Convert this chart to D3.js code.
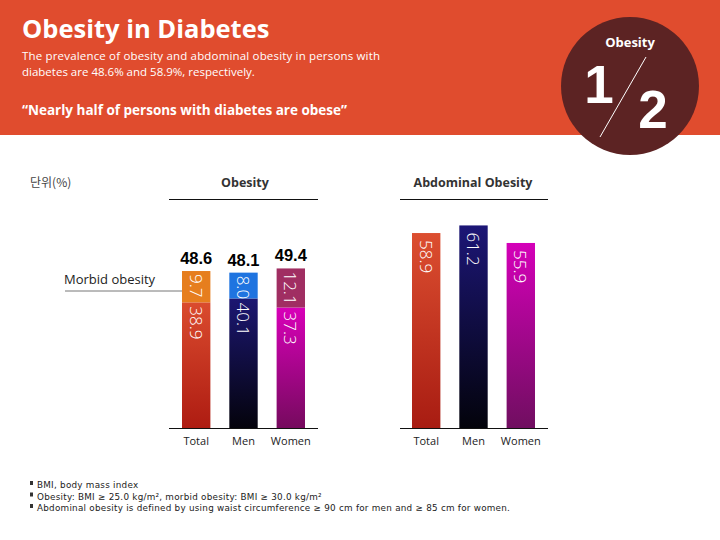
<!DOCTYPE html>
<html>
<head>
<meta charset="utf-8">
<script src="https://cdn.jsdelivr.net/npm/d3@7"></script>
<style>
  html, body { margin: 0; padding: 0; background: #fff; }
  svg { display: block; font-family: "Open Sans", "Noto Sans", sans-serif; }
</style>
</head>
<body>
<svg id="chart" width="720" height="540"></svg>
<script>
// ---- data ----
const categories = ["Total", "Men", "Women"];
const obesityTotals = [48.6, 48.1, 49.4];
const morbidObesity = [9.7, 8.0, 12.1];
const nonMorbidObesity = [38.9, 40.1, 37.3];
const abdominalObesity = [58.9, 61.2, 55.9];
const footnotes = [
  "BMI, body mass index",
  "Obesity: BMI \u2265 25.0 kg/m\u00B2, morbid obesity: BMI \u2265 30.0 kg/m\u00B2",
  "Abdominal obesity is defined by using waist circumference \u2265 90 cm for men and \u2265 85 cm for women."
];

const svg = d3.select("#chart");
const defs = svg.append("defs");

function grad(id, c1, c2) {
  const g = defs.append("linearGradient").attr("id", id)
    .attr("x1", 0).attr("y1", 0).attr("x2", 0).attr("y2", 1);
  g.append("stop").attr("offset", "0%").attr("stop-color", c1);
  g.append("stop").attr("offset", "100%").attr("stop-color", c2);
  return "url(#" + id + ")";
}
const baseFill = [
  grad("gT", "#DA4B2E", "#AE1C12"),
  grad("gM", "#1C1772", "#04030C"),
  grad("gW", "#D800B8", "#760A5E")
];
const morbidFill = ["#E67E1E", "#1F74E0", "#A02E62"];
const abdFill = [
  grad("aT", "#DC4E30", "#A81C12"),
  grad("aM", "#1C1676", "#03030B"),
  grad("aW", "#D400B8", "#700E60")
];

// ---- header ----
svg.append("rect").attr("x", 0).attr("y", 0).attr("width", 720).attr("height", 135).attr("fill", "#E04C2E");
svg.append("text").attr("x", 22).attr("y", 38).attr("fill", "#fff")
  .attr("font-size", 25.5).attr("font-weight", 700).text("Obesity in Diabetes");
svg.append("text").attr("x", 22).attr("y", 60).attr("fill", "#fff").attr("font-size", 11.5)
  .attr("textLength", 358).attr("lengthAdjust", "spacing")
  .text("The prevalence of obesity and abdominal obesity in persons with");
svg.append("text").attr("x", 22).attr("y", 76).attr("fill", "#fff").attr("font-size", 11.5)
  .text("diabetes are 48.6% and 58.9%, respectively.");
svg.append("text").attr("x", 22).attr("y", 115).attr("fill", "#fff").attr("font-size", 13.5)
  .attr("font-weight", 700).text("\u201CNearly half of persons with diabetes are obese\u201D");

// badge
svg.append("circle").attr("cx", 630).attr("cy", 86).attr("r", 69).attr("fill", "#5C2323");
svg.append("text").attr("x", 630).attr("y", 47).attr("text-anchor", "middle").attr("fill", "#fff")
  .attr("font-size", 13).attr("font-weight", 700).text("Obesity");
svg.append("text").attr("x", 599).attr("y", 103).attr("text-anchor", "middle").attr("fill", "#fff")
  .attr("font-family", "Liberation Sans, Arial, sans-serif")
  .attr("font-size", 53).attr("font-weight", 700).text("1");
svg.append("text").attr("x", 653).attr("y", 128).attr("text-anchor", "middle").attr("fill", "#fff")
  .attr("font-family", "Liberation Sans, Arial, sans-serif")
  .attr("font-size", 53).attr("font-weight", 700).text("2");
svg.append("line").attr("x1", 600).attr("y1", 137).attr("x2", 646).attr("y2", 57)
  .attr("stroke", "#fff").attr("stroke-width", 1);

// ---- unit + section titles ----
svg.append("text").attr("x", 30).attr("y", 187).attr("fill", "#444").attr("font-size", 12)
  .attr("font-family", "Noto Sans CJK KR, sans-serif").text("단위(%)");

function sectionTitle(cx, x1, x2, label) {
  svg.append("text").attr("x", cx).attr("y", 187).attr("text-anchor", "middle")
    .attr("fill", "#333").attr("font-size", 12.5).attr("font-weight", 700).text(label);
  svg.append("line").attr("x1", x1).attr("x2", x2).attr("y1", 199.5).attr("y2", 199.5)
    .attr("stroke", "#111").attr("stroke-width", 1);
}
sectionTitle(245, 169, 318, "Obesity");
sectionTitle(473, 400, 548, "Abdominal Obesity");

// ---- scales ----
const baseY = 428;
const yL = d3.scaleLinear().domain([0, 100]).range([baseY, baseY - 323]);
const yR = d3.scaleLinear().domain([0, 100]).range([baseY, baseY - 331]);
const xL = d3.scaleBand().domain(categories).range([182, 305]).paddingInner(0.4).paddingOuter(0);
const xR = d3.scaleBand().domain(categories).range([412, 535]).paddingInner(0.4).paddingOuter(0);

function rotLabel(g, x, yTop, txt) {
  g.append("text")
    .attr("transform", "translate(" + x + "," + yTop + ") rotate(90)")
    .attr("fill", "#fff").attr("font-size", 17).attr("font-weight", 300)
    .attr("dominant-baseline", "central")
    .text(txt);
}

// ---- left chart (stacked) ----
const gL = svg.append("g");
categories.forEach((c, i) => {
  const x = xL(c), w = xL.bandwidth();
  gL.append("rect").attr("x", x).attr("width", w)
    .attr("y", yL(nonMorbidObesity[i])).attr("height", yL(0) - yL(nonMorbidObesity[i]))
    .attr("fill", baseFill[i]);
  gL.append("rect").attr("x", x).attr("width", w)
    .attr("y", yL(obesityTotals[i])).attr("height", yL(nonMorbidObesity[i]) - yL(obesityTotals[i]))
    .attr("fill", morbidFill[i]);
  rotLabel(gL, x + w / 2, yL(obesityTotals[i]) + 3, morbidObesity[i].toFixed(1));
  rotLabel(gL, x + w / 2, yL(nonMorbidObesity[i]) + 4, nonMorbidObesity[i].toFixed(1));
  gL.append("text").attr("x", x + w / 2).attr("y", yL(obesityTotals[i]) - 7)
    .attr("text-anchor", "middle").attr("fill", "#000").attr("font-size", 16.5).attr("font-weight", 700)
    .attr("font-family", "Liberation Sans, Arial, sans-serif")
    .text(obesityTotals[i].toFixed(1));
});
gL.append("line").attr("x1", 169).attr("x2", 318).attr("y1", baseY + 0.5).attr("y2", baseY + 0.5)
  .attr("stroke", "#111");
const axL = svg.append("g").attr("transform", "translate(0," + (baseY + 1) + ")")
  .call(d3.axisBottom(xL).tickSize(0).tickPadding(8));
axL.select(".domain").remove();
axL.selectAll("text").attr("font-size", 11).attr("fill", "#222").attr("font-family", "Open Sans, sans-serif");

// morbid obesity callout
svg.append("text").attr("x", 64).attr("y", 284).attr("fill", "#222").attr("font-size", 13)
  .text("Morbid obesity");
svg.append("line").attr("x1", 65).attr("x2", xL("Total")).attr("y1", 291).attr("y2", 291)
  .attr("stroke", "#777").attr("stroke-width", 1);

// ---- right chart ----
const gR = svg.append("g");
categories.forEach((c, i) => {
  const x = xR(c), w = xR.bandwidth();
  gR.append("rect").attr("x", x).attr("width", w)
    .attr("y", yR(abdominalObesity[i])).attr("height", yR(0) - yR(abdominalObesity[i]))
    .attr("fill", abdFill[i]);
  rotLabel(gR, x + w / 2, yR(abdominalObesity[i]) + 7, abdominalObesity[i].toFixed(1));
});
gR.append("line").attr("x1", 400).attr("x2", 548).attr("y1", baseY + 0.5).attr("y2", baseY + 0.5)
  .attr("stroke", "#111");
const axR = svg.append("g").attr("transform", "translate(0," + (baseY + 1) + ")")
  .call(d3.axisBottom(xR).tickSize(0).tickPadding(8));
axR.select(".domain").remove();
axR.selectAll("text").attr("font-size", 11).attr("fill", "#222").attr("font-family", "Open Sans, sans-serif");

// ---- footnotes ----
const fn = svg.append("g");
footnotes.forEach((t, i) => {
  fn.append("rect").attr("x", 30).attr("y", 485 + i * 11.5 - 4).attr("width", 3).attr("height", 4).attr("fill", "#333");
  fn.append("text").attr("x", 37).attr("y", 488 + i * 11.5).attr("fill", "#222")
    .attr("font-family", "DejaVu Sans, sans-serif").attr("font-size", 8.8)
    .attr("letter-spacing", 0.25).text(t);
});
</script>
</body>
</html>
